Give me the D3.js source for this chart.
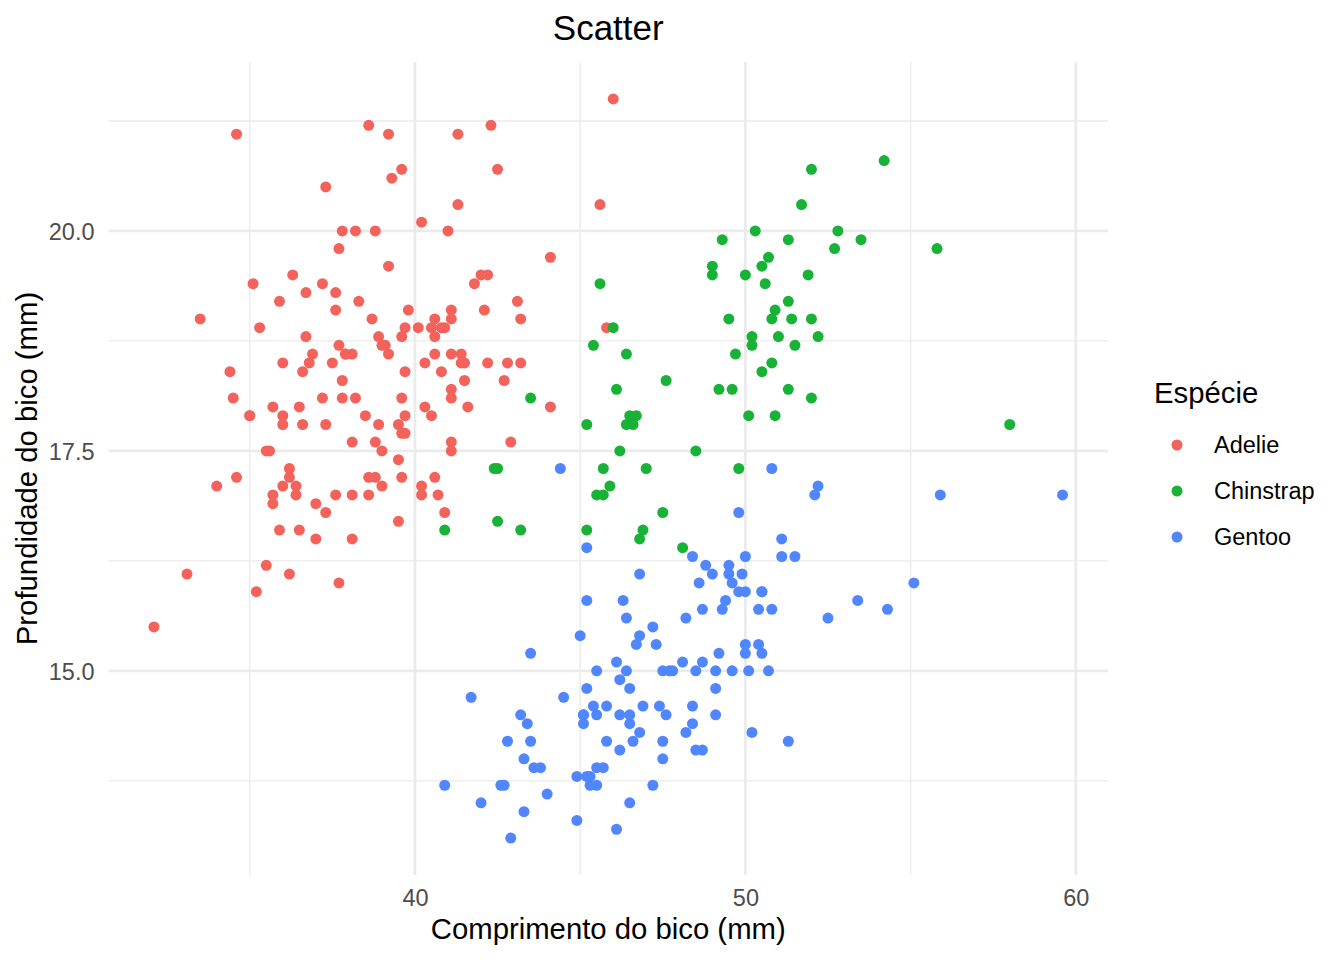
<!DOCTYPE html>
<html>
<head>
<meta charset="utf-8">
<script src="https://cdn.jsdelivr.net/npm/d3@7"></script>
<style>
  body { margin: 0; background: #fff; }
  text { font-family: "Liberation Sans", Arial, sans-serif; }
</style>
</head>
<body>
<div id="chart"></div>
<script>
// comprimento / profundidade do bico (mm)
const adelie = [
  [39.1,18.7],[39.5,17.4],[40.3,18.0],[36.7,19.3],[39.3,20.6],[38.9,17.8],[39.2,19.6],
  [41.1,17.6],[38.6,21.2],[34.6,21.1],[36.6,17.8],[38.7,19.0],[42.5,20.7],[34.4,18.4],[46.0,21.5],[37.8,18.3],
  [37.7,18.7],[35.9,19.2],[38.2,18.1],[38.8,17.2],[35.3,18.9],[40.6,18.6],[40.5,17.9],[37.9,18.6],[40.5,18.9],[39.5,16.7],
  [37.2,18.1],[39.5,17.8],[40.9,18.9],[36.4,17.0],[39.2,21.1],[38.8,20.0],[42.2,18.5],[37.6,19.3],[39.8,19.1],[36.5,18.0],
  [40.8,18.4],[36.0,18.5],[44.1,19.7],[37.0,16.9],[39.6,18.8],[41.1,19.0],[36.0,17.9],[42.3,21.2],[39.6,17.7],
  [40.1,18.9],[35.0,17.9],[42.0,19.5],[34.5,18.1],[41.4,18.6],[39.0,17.5],[40.6,18.8],[36.5,16.6],[37.6,19.1],[35.7,16.9],
  [41.3,21.1],[37.6,17.0],[41.1,18.2],[36.4,17.1],[41.6,18.0],[35.5,16.2],[41.1,19.1],[35.9,16.6],[41.8,19.4],[33.5,19.0],
  [39.7,18.4],[39.6,17.2],[45.8,18.9],[35.5,17.5],[42.8,18.5],[40.9,16.8],[37.2,19.4],[36.2,16.1],[42.1,19.1],[34.6,17.2],
  [42.9,17.6],[36.7,18.8],[35.1,19.4],[37.3,17.8],[41.3,20.3],[36.3,19.5],[36.9,18.6],[38.3,19.2],[38.9,18.8],[35.7,18.0],
  [41.1,18.1],[34.0,17.1],[39.6,18.1],[36.2,17.3],[40.8,18.9],[38.1,18.6],[40.3,18.5],[33.1,16.1],[43.2,18.5],[35.0,17.9],
  [41.0,20.0],[37.7,16.0],[37.8,20.0],[37.9,18.6],[39.7,18.9],[38.6,17.2],[38.2,20.0],[38.1,17.0],[43.2,19.0],[38.1,16.5],
  [45.6,20.3],[39.7,17.7],[42.2,19.5],[39.6,20.7],[42.7,18.3],[38.6,17.0],[37.3,20.5],[35.7,17.0],[41.1,18.6],[36.2,17.2],
  [37.7,19.8],[40.2,17.0],[41.4,18.5],[35.2,15.9],[40.6,19.0],[38.8,17.6],[41.5,18.3],[39.0,17.1],[44.1,18.0],[38.5,17.9],
  [43.1,19.2],[36.8,18.5],[37.5,18.5],[38.1,17.6],[41.1,17.5],[35.6,17.5],[40.2,20.1],[37.0,16.5],[39.7,17.9],[40.2,17.1],
  [40.6,17.2],[32.1,15.5],[40.7,17.0],[37.3,16.8],[39.0,18.7],[39.2,18.6],[36.6,18.4],[36.0,17.8],[37.8,18.1],[36.0,17.1],
  [41.5,18.5]
];
const gentoo = [
  [46.1,13.2],[50.0,16.3],[48.7,14.1],[50.0,15.2],[47.6,14.5],[46.5,13.5],[45.4,14.6],[46.7,15.3],[43.3,13.4],[46.8,15.4],
  [40.9,13.7],[49.0,16.1],[45.5,13.7],[48.4,14.6],[45.8,14.6],[49.3,15.7],[42.0,13.5],[49.2,15.2],[46.2,14.5],[48.7,15.1],
  [50.2,14.3],[45.1,14.5],[46.5,14.5],[46.3,15.8],[42.9,13.1],[46.1,15.1],[47.8,15.0],[48.2,14.3],[50.0,15.3],
  [47.3,15.3],[42.8,14.2],[45.1,14.5],[59.6,17.0],[49.1,14.8],[48.4,16.3],[42.6,13.7],[44.4,17.3],[44.0,13.6],[48.7,15.7],
  [42.7,13.7],[49.6,16.0],[45.3,13.7],[49.6,15.0],[50.5,15.9],[43.6,13.9],[45.5,13.9],[50.5,15.9],[44.9,13.3],[45.2,15.8],
  [46.6,14.2],[48.5,14.1],[45.1,14.4],[50.1,15.0],[46.5,14.4],[45.0,15.4],[43.8,13.9],[45.5,15.0],[43.2,14.5],[50.4,15.3],
  [45.3,13.8],[46.2,14.9],[45.7,13.9],[54.3,15.7],[45.8,14.2],[49.8,16.8],[49.5,16.2],[43.5,14.2],[50.7,15.0],
  [47.7,15.0],[46.4,15.6],[48.2,15.6],[46.5,14.8],[46.4,15.0],[48.6,16.0],[47.5,14.2],[51.1,16.3],[45.2,13.8],[45.2,16.4],
  [49.1,14.5],[52.5,15.6],[47.4,14.6],[50.0,15.9],[44.9,13.8],[50.8,17.3],[43.4,14.4],[51.3,14.2],[47.5,14.0],[52.1,17.0],
  [47.5,15.0],[52.2,17.1],[45.5,14.5],[49.5,16.1],[44.5,14.7],[50.8,15.7],[49.4,15.8],[46.9,14.6],[48.4,14.4],[51.1,16.5],
  [48.5,15.0],[55.9,17.0],[47.2,15.5],[49.1,15.0],[46.8,16.1],[41.7,14.7],[53.4,15.8],[43.3,14.0],[48.1,15.1],
  [50.5,15.2],[49.8,15.9],[43.5,15.2],[51.5,16.3],[46.2,14.1],[55.1,16.0],[48.8,16.2],[47.2,13.7],[46.8,14.3],
  [50.4,15.7],[45.2,14.8],[49.9,16.1]
];
const chinstrap = [
  [46.5,17.9],[50.0,19.5],[51.3,19.2],[45.4,18.7],[52.7,19.8],[45.2,17.8],[46.1,18.2],[51.3,18.2],[46.0,18.9],[51.3,19.9],
  [46.6,17.8],[51.7,20.3],[47.0,17.3],[52.0,18.1],[45.9,17.1],[50.5,19.6],[50.3,20.0],[58.0,17.8],[46.4,18.6],[49.2,18.2],
  [42.4,17.3],[48.5,17.5],[43.2,16.6],[50.6,19.4],[46.7,17.9],[52.0,19.0],[50.5,18.4],[49.5,19.0],[46.4,17.8],[52.8,20.0],
  [40.9,16.6],[54.2,20.8],[42.5,16.7],[51.0,18.8],[49.7,18.6],[47.5,16.8],[47.6,18.3],[52.0,20.7],[46.9,16.6],[53.5,19.9],
  [49.0,19.5],[46.2,17.5],[50.9,19.1],[45.5,17.0],[50.9,17.9],[50.8,18.5],[50.1,17.9],[49.0,19.6],[51.5,18.7],[49.8,17.3],
  [48.1,16.4],[51.4,19.0],[45.7,17.3],[50.7,19.7],[42.5,17.3],[52.2,18.8],[45.2,16.6],[49.3,19.9],[50.2,18.8],[45.6,19.4],
  [51.9,19.5],[46.8,16.5],[45.7,17.0],[55.8,19.8],[43.5,18.1],[49.6,18.2],[50.8,19.0],[50.2,18.7]
];

const species = ["Adelie", "Chinstrap", "Gentoo"];
const colors = ["#F3625B", "#17B236", "#5086FF"];
const xTicks = [40, 50, 60];
const yTicks = [15, 17.5, 20];

const W = 1344, H = 960;
const panel = { left: 108.5, right: 1108, top: 62, bottom: 875 };

const svg = d3.select("#chart").append("svg")
  .attr("width", W)
  .attr("height", H);

const all = adelie.concat(gentoo, chinstrap);

function expand(ext) {
  const pad = (ext[1] - ext[0]) * 0.05;
  return [ext[0] - pad, ext[1] + pad];
}

const x = d3.scaleLinear()
  .domain(expand(d3.extent(all, d => d[0])))
  .range([panel.left, panel.right]);

const y = d3.scaleLinear()
  .domain(expand(d3.extent(all, d => d[1])))
  .range([panel.bottom, panel.top]);

const color = d3.scaleOrdinal().domain(species).range(colors);

// minor grid (midpoints)
const xMinor = d3.range(25, 70, 5).filter(v => xTicks.indexOf(v) < 0 && v > x.domain()[0] && v < x.domain()[1]);
const yMinor = d3.range(11.25, 25, 2.5).filter(v => v > y.domain()[0] && v < y.domain()[1]);

const grid = svg.append("g");
grid.selectAll(".xminor").data(xMinor).enter().append("line")
  .attr("x1", d => x(d)).attr("x2", d => x(d))
  .attr("y1", panel.top).attr("y2", panel.bottom)
  .attr("stroke", "#EBEBEB").attr("stroke-width", 1.4);
grid.selectAll(".yminor").data(yMinor).enter().append("line")
  .attr("y1", d => y(d)).attr("y2", d => y(d))
  .attr("x1", panel.left).attr("x2", panel.right)
  .attr("stroke", "#EBEBEB").attr("stroke-width", 1.4);
grid.selectAll(".xmajor").data(xTicks).enter().append("line")
  .attr("x1", d => x(d)).attr("x2", d => x(d))
  .attr("y1", panel.top).attr("y2", panel.bottom)
  .attr("stroke", "#EBEBEB").attr("stroke-width", 2.8);
grid.selectAll(".ymajor").data(yTicks).enter().append("line")
  .attr("y1", d => y(d)).attr("y2", d => y(d))
  .attr("x1", panel.left).attr("x2", panel.right)
  .attr("stroke", "#EBEBEB").attr("stroke-width", 2.8);

// points, in the row order of the data
const layers = [["Adelie", adelie], ["Gentoo", gentoo], ["Chinstrap", chinstrap]];
layers.forEach(function(l) {
  svg.append("g")
    .attr("fill", color(l[0]))
    .selectAll("circle")
    .data(l[1])
    .enter().append("circle")
    .attr("cx", d => x(d[0]))
    .attr("cy", d => y(d[1]))
    .attr("r", 5.5);
});

// axes (no lines, only labels)
const xAxis = svg.append("g")
  .attr("transform", "translate(0," + panel.bottom + ")")
  .call(d3.axisBottom(x).tickValues(xTicks).tickSize(0).tickPadding(0).tickFormat(d3.format("d")));
xAxis.select(".domain").remove();
xAxis.selectAll("text")
  .attr("dy", null)
  .attr("y", 31)
  .attr("fill", "#4D4D4D")
  .style("font-size", "23.5px")
  .attr("font-family", "Liberation Sans, Arial, sans-serif");

const yAxis = svg.append("g")
  .attr("transform", "translate(" + panel.left + ",0)")
  .call(d3.axisLeft(y).tickValues(yTicks).tickSize(0).tickPadding(0).tickFormat(d3.format(".1f")));
yAxis.select(".domain").remove();
yAxis.selectAll("text")
  .attr("x", -14)
  .attr("dy", "0.35em")
  .attr("fill", "#4D4D4D")
  .style("font-size", "23.5px")
  .attr("font-family", "Liberation Sans, Arial, sans-serif");

// titles
svg.append("text")
  .attr("x", (panel.left + panel.right) / 2)
  .attr("y", 40)
  .attr("text-anchor", "middle")
  .style("font-size", "35px")
  .text("Scatter");

svg.append("text")
  .attr("x", (panel.left + panel.right) / 2)
  .attr("y", 939)
  .attr("text-anchor", "middle")
  .style("font-size", "29.3px")
  .text("Comprimento do bico (mm)");

svg.append("text")
  .attr("transform", "translate(37," + (panel.top + panel.bottom) / 2 + ") rotate(-90)")
  .attr("text-anchor", "middle")
  .style("font-size", "29.3px")
  .text("Profundidade do bico (mm)");

// legend
const legX = 1154, legY = 403;
svg.append("text")
  .attr("x", legX)
  .attr("y", legY)
  .style("font-size", "29.3px")
  .text("Espécie");

const leg = svg.append("g").selectAll("g")
  .data(species)
  .enter().append("g")
  .attr("transform", (d, i) => "translate(" + legX + "," + (legY + 42 + i * 46) + ")");
leg.append("circle")
  .attr("cx", 23)
  .attr("cy", 0)
  .attr("r", 5.5)
  .attr("fill", d => color(d));
leg.append("text")
  .attr("x", 60)
  .attr("dy", "0.35em")
  .style("font-size", "23.5px")
  .text(d => d);
</script>
</body>
</html>
